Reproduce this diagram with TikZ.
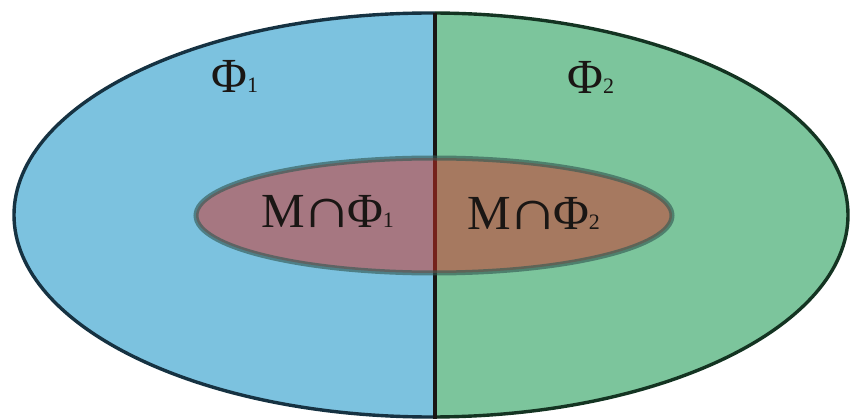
\documentclass[tikz,border=0pt]{standalone}
\usepackage{fontspec}
\setmainfont{Liberation Serif}
\newcommand\lowsub[1]{{\fontsize{22}{22}\selectfont #1}}
\newcommand\bigcapsym{\kern-3pt\scalebox{1.45}[1.15]{∩}\kern-6pt}
\begin{document}
\begin{tikzpicture}[x=1pt,y=-1pt]
\definecolor{blueA}{RGB}{124,194,223}
\definecolor{greenA}{RGB}{124,197,156}
\definecolor{edgeL}{RGB}{22,50,66}
\definecolor{edgeR}{RGB}{20,52,34}
\definecolor{redA}{RGB}{208,46,37}
\definecolor{ringC}{RGB}{52,88,83}
\definecolor{inkC}{RGB}{26,22,20}
\tikzset{
  lbl/.style={text=inkC, inner sep=0pt, font=\fontsize{49}{49}\selectfont, anchor=base west},
}
\useasboundingbox (0,0) rectangle (850,419);
% left half
\begin{scope}
  \clip (0,0) rectangle (435,419);
  \fill[blueA] (431,215) ellipse [x radius=417, y radius=202];
  \draw[edgeL, line width=3.4] (431,215) ellipse [x radius=417, y radius=202];
\end{scope}
% right half
\begin{scope}
  \clip (435,0) rectangle (850,419);
  \fill[greenA] (431,215) ellipse [x radius=417, y radius=202];
  \draw[edgeR, line width=3.4] (431,215) ellipse [x radius=417, y radius=202];
\end{scope}
% divider
\coordinate (top) at (435,13);
\coordinate (bot) at (435,419);
\draw[inkC, line width=4] (top) -- (bot);
% inner ellipse
\fill[redA, fill opacity=0.5] (434,215.5) ellipse [x radius=238, y radius=57.5];
\draw[ringC, draw opacity=0.63, line width=5] (434,215.5) ellipse [x radius=238, y radius=57.5];
% labels
\node[lbl] (phi1) at (211,93) {Φ\lowsub{1}};
\node[lbl] (phi2) at (567,94) {Φ\lowsub{2}};
\node[lbl] (mphi1) at (261,228) {M\bigcapsym Φ\lowsub{1}};
\node[lbl] (mphi2) at (467,230) {M\bigcapsym Φ\lowsub{2}};
\end{tikzpicture}
\end{document}
